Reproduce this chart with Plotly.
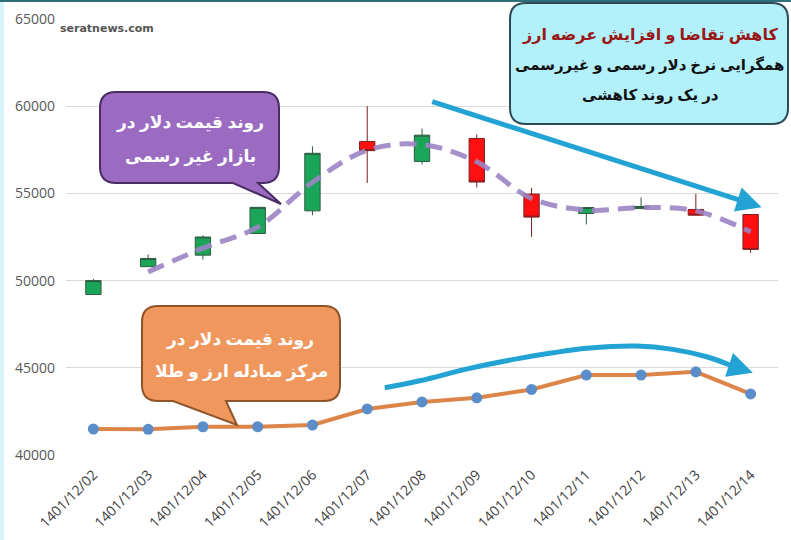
import plotly.graph_objects as go

dates = ["1401/12/02", "1401/12/03", "1401/12/04", "1401/12/05", "1401/12/06",
         "1401/12/07", "1401/12/08", "1401/12/09", "1401/12/10", "1401/12/11",
         "1401/12/12", "1401/12/13", "1401/12/14"]

# Informal (free market) dollar rate – candlesticks
open_ = [49200, 50800, 51460, 52700, 54000, 57980, 56830, 58150, 54960, 53850, 54130, 54080, 53790]
high_ = [50100, 51500, 52600, 54200, 57700, 60000, 58720, 58380, 55320, 54190, 54770, 54980, 53790]
low_ = [49200, 50800, 51200, 52700, 53750, 55600, 56660, 55340, 52510, 53220, 54130, 53750, 51590]
close_ = [50000, 51270, 52500, 54200, 57300, 57450, 58340, 55650, 53640, 54190, 54250, 53750, 51790]

# Trend of informal rate (dashed purple curve)
trend_dates = dates[1:]
trend_values = [50500, 51860, 53070, 55640, 57480, 57800, 56810, 54710, 54040, 54190, 54000, 52800]

# Official rate (exchange centre)
official = [41490, 41470, 41620, 41620, 41720, 42640, 43040, 43280, 43760, 44580, 44580, 44770, 43500]

y_ticks = [40000, 45000, 50000, 55000, 60000, 65000]

# Decorative curved arrow above the official line (category index, value)
arc_x = [5.32, 5.96, 6.87, 7.78, 8.39, 9.01, 9.92, 10.58, 11.20, 11.62]
arc_y = [43857, 44258, 44968, 45542, 45862, 46115, 46246, 46057, 45633, 45158]

W, H = 791, 540
L, R, T, B = 66, 13, 19, 85
PW, PH = W - L - R, H - T - B


def px(x):
    return (x - L) / PW


def py(y):
    return (H - B - y) / PH


def callout(x0, y0, x1, y1, r, ptr=None):
    # rounded rectangle in pixel coords, optional pointer on the bottom edge
    s = f"M {px(x0 + r)} {py(y0)} L {px(x1 - r)} {py(y0)} Q {px(x1)} {py(y0)} {px(x1)} {py(y0 + r)} "
    s += f"L {px(x1)} {py(y1 - r)} Q {px(x1)} {py(y1)} {px(x1 - r)} {py(y1)} "
    if ptr:
        (bx0, bx1, tx, ty) = ptr
        s += f"L {px(bx1)} {py(y1)} L {px(tx)} {py(ty)} L {px(bx0)} {py(y1)} "
    s += f"L {px(x0 + r)} {py(y1)} Q {px(x0)} {py(y1)} {px(x0)} {py(y1 - r)} "
    s += f"L {px(x0)} {py(y0 + r)} Q {px(x0)} {py(y0)} {px(x0 + r)} {py(y0)} Z"
    return s


fig = go.Figure()

fig.add_trace(go.Candlestick(
    x=dates, open=open_, high=high_, low=low_, close=close_,
    increasing=dict(fillcolor="#1BA559", line=dict(color="#2F5A40", width=1)),
    decreasing=dict(fillcolor="#FF1010", line=dict(color="#7A2020", width=1)),
    whiskerwidth=0, showlegend=False, hoverinfo="skip"))

fig.add_trace(go.Scatter(
    x=trend_dates, y=trend_values, mode="lines",
    line=dict(color="#9C84C4", width=5, dash="17px,9px", shape="spline", smoothing=1.0),
    opacity=0.9, showlegend=False, hoverinfo="skip"))

fig.add_trace(go.Scatter(
    x=dates, y=official, mode="lines+markers",
    line=dict(color="#DC8548", width=4),
    marker=dict(color="#5B8DC8", size=11),
    showlegend=False, hoverinfo="skip"))

# curved blue arrow (body) on numeric overlay axis
fig.add_trace(go.Scatter(
    x=arc_x, y=arc_y, mode="lines", xaxis="x2",
    line=dict(color="#22A3D3", width=5, shape="spline"),
    showlegend=False, hoverinfo="skip"))

fig.update_layout(
    width=W, height=H,
    margin=dict(l=L, r=R, t=T, b=B, autoexpand=False),
    paper_bgcolor="white", plot_bgcolor="white",
    boxgap=0.6,
    font=dict(family="Open Sans, Arial", color="#595959"),
    xaxis=dict(type="category", range=[-0.5, 12.5], tickangle=-45,
               showgrid=False, showline=False, zeroline=False, automargin=False,
               rangeslider=dict(visible=False), ticks="", ticklabelstandoff=8,
               tickfont=dict(size=14, color="#404040")),
    xaxis2=dict(overlaying="x", range=[-0.5, 12.5], visible=False),
    yaxis=dict(range=[40000, 65000], tickvals=y_ticks,
               ticktext=[str(v) for v in y_ticks], automargin=False,
               gridcolor="#D9D9D9", gridwidth=1, zeroline=False,
               showline=False, ticks="", ticklen=0, ticklabelstandoff=10,
               tickfont=dict(size=14, color="#595959")),
)

shapes = []
# outer frame accents
shapes.append(dict(type="rect", xref="paper", yref="paper", x0=px(0), x1=px(W), y0=py(2), y1=py(0),
                   fillcolor="#2E6E7A", line=dict(width=0), layer="above"))
shapes.append(dict(type="rect", xref="paper", yref="paper", x0=px(0), x1=px(4), y0=py(H), y1=py(0),
                   fillcolor="#D6F2FA", line=dict(width=0), layer="below"))

# purple callout
shapes.append(dict(type="path", xref="paper", yref="paper",
                   path=callout(100, 92, 279, 183, 16, ptr=(233, 258, 281, 204)),
                   fillcolor="#9B6BC2", line=dict(color="#4A2C66", width=2), layer="above"))
# orange callout
shapes.append(dict(type="path", xref="paper", yref="paper",
                   path=callout(142, 306, 340, 401, 16, ptr=(173, 226, 237, 425)),
                   fillcolor="#F0975E", line=dict(color="#8E5529", width=2), layer="above"))
# cyan box
shapes.append(dict(type="path", xref="paper", yref="paper",
                   path=callout(510, 3, 788, 124, 16),
                   fillcolor="#B2F0FA", line=dict(color="#2E4A55", width=2), layer="above"))
fig.update_layout(shapes=shapes)

ann = []
tf = "Noto Sans, DejaVu Sans"


def txt(x, y, t, size, color):
    return dict(xref="paper", yref="paper", x=px(x), y=py(y), xanchor="center", yanchor="middle",
                text=f"<b>{t}</b>", showarrow=False, font=dict(family=tf, size=size, color=color))


ann.append(txt(190, 121, "روند قیمت دلار در", 17, "white"))
ann.append(txt(190, 156, "بازار غیر رسمی", 17, "white"))
ann.append(txt(240, 338, "روند قیمت دلار در", 17, "white"))
ann.append(txt(241, 370, "مرکز مبادله ارز و طلا", 17, "white"))
ann.append(txt(650, 34, "کاهش تقاضا و افزایش عرضه ارز", 16, "#9A1818"))
ann.append(txt(650, 64, "همگرایی نرخ دلار رسمی و غیررسمی", 15, "#111111"))
ann.append(txt(650, 94, "در یک روند کاهشی", 15, "#111111"))
# watermark
ann.append(dict(xref="paper", yref="paper", x=px(58), y=py(29), xanchor="left", yanchor="middle",
                text="<b>seratnews.com</b>", showarrow=False,
                font=dict(family="DejaVu Sans", size=11, color="#555555")))
# straight blue arrow
ann.append(dict(xref="x2", yref="y", axref="x2", ayref="y", x=12.2, y=54212, ax=6.16, ay=60287,
                showarrow=True, arrowhead=2, arrowsize=1, arrowwidth=5, arrowcolor="#22A3D3", text=""))
# head of curved arrow
ann.append(dict(xref="x2", yref="y", axref="x2", ayref="y", x=12.04, y=44716, ax=11.62, ay=45158,
                showarrow=True, arrowhead=2, arrowsize=1, arrowwidth=5, arrowcolor="#22A3D3", text=""))
fig.update_layout(annotations=ann)

fig.write_html("out.html", config={"displayModeBar": False},
               post_script="document.body.style.margin='0';document.body.style.padding='0';")
